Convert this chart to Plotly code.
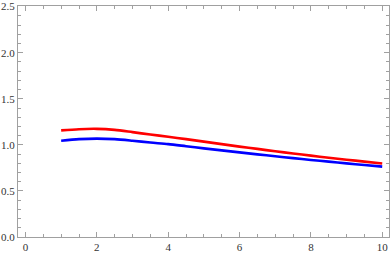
import plotly.graph_objects as go

x_vals = [1, 1.5, 2, 2.5, 3, 3.5, 4, 4.5, 5, 5.5, 6, 6.5, 7, 7.5, 8, 8.5, 9, 9.5, 10]
red_vals = [1.157, 1.170, 1.174, 1.163, 1.138, 1.112, 1.088, 1.062, 1.035, 1.008, 0.981,
            0.956, 0.930, 0.907, 0.883, 0.860, 0.839, 0.818, 0.797]
blue_vals = [1.045, 1.062, 1.068, 1.062, 1.045, 1.025, 1.008, 0.985, 0.962, 0.940, 0.918,
             0.897, 0.876, 0.856, 0.836, 0.818, 0.799, 0.781, 0.764]
x_ticks = [0, 2, 4, 6, 8, 10]
y_ticks = [0.0, 0.5, 1.0, 1.5, 2.0, 2.5]

fig = go.Figure()
fig.add_trace(go.Scatter(x=x_vals, y=red_vals, mode="lines",
                         line=dict(color="#ff0000", width=2.6, shape="spline", smoothing=0.8)))
fig.add_trace(go.Scatter(x=x_vals, y=blue_vals, mode="lines",
                         line=dict(color="#0000ff", width=2.6, shape="spline", smoothing=0.8)))

axis_common = dict(showgrid=False, zeroline=False, showline=True, linecolor="#a0a0a0",
                   linewidth=1, mirror="ticks", ticks="inside", tickcolor="#a0a0a0",
                   tickwidth=1, tickfont=dict(family="Liberation Serif", size=11, color="#333333"))

fig.update_xaxes(range=[-0.21, 10.19], tickvals=x_ticks, ticktext=[str(v) for v in x_ticks],
                 ticklen=5, minor=dict(dtick=0.5, ticks="inside", ticklen=3, tickcolor="#a0a0a0"),
                 **axis_common)
fig.update_yaxes(range=[0, 2.507], tickvals=y_ticks, ticktext=[f"{v:.1f}" for v in y_ticks],
                 ticklen=5, minor=dict(dtick=0.1, ticks="inside", ticklen=3, tickcolor="#a0a0a0"),
                 **axis_common)

fig.update_layout(width=390, height=254, margin=dict(l=18, r=1, t=6, b=17),
                  showlegend=False, plot_bgcolor="white", paper_bgcolor="white")
fig.write_html("out.html", config={"displayModeBar": False},
               post_script="document.body.style.margin='0';document.body.style.padding='0';")
